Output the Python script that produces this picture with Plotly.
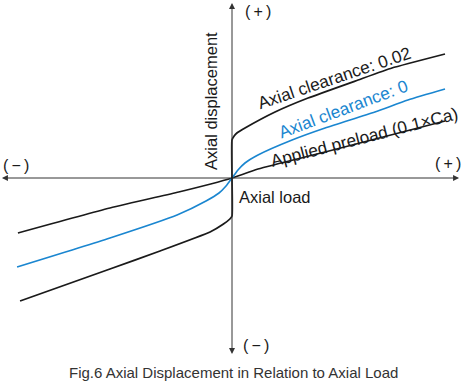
import plotly.graph_objects as go

# ---- data (normalised axial load, relative axial displacement) ----
load_clear002 = [-0.995, -0.573, -0.338, -0.103, -0.040, -0.010, 0.0, 0.0, 0.0, 0.010, 0.023, 0.061, 0.202, 0.357, 0.592, 0.751, 1.0]
disp_clear002 = [-1.23, -0.91, -0.73, -0.54, -0.46, -0.41, -0.38, 0.0, 0.38, 0.42, 0.45, 0.50, 0.66, 0.80, 0.98, 1.10, 1.24]

load_clear0 = [-1.009, -0.573, -0.258, -0.122, -0.061, -0.028, -0.014, 0.0, 0.014, 0.028, 0.061, 0.122, 0.282, 0.437, 0.671, 0.826, 1.0]
disp_clear0 = [-0.89, -0.60, -0.37, -0.23, -0.15, -0.08, -0.04, 0.0, 0.04, 0.08, 0.15, 0.23, 0.38, 0.50, 0.66, 0.78, 0.89]

load_preload = [-1.005, -0.573, -0.250, -0.100, 0.0, 0.122, 0.437, 1.0]
disp_preload = [-0.55, -0.30, -0.14, -0.06, 0.0, 0.09, 0.26, 0.57]

labels = ["Axial clearance: 0.02", "Axial clearance: 0", "Applied preload (0.1×Ca)"]
x_title = "Axial load"
y_title = "Axial displacement"
caption = "Fig.6 Axial Displacement in Relation to Axial Load"
plus_label = "(\u2009+\u2009)"
minus_label = "(\u2009\u2212\u2009)"

X_RANGE = [-1.0892, 1.0845]
Y_RANGE = [-2.14, 1.78]
X_TIP_L, X_TIP_R = -1.080, 1.066
Y_TIP_T, Y_TIP_B = 1.75, -1.76

BLACK = "#1a1a1a"
BLUE = "#1a86d0"
FONT = "Liberation Sans, Arial, sans-serif"

fig = go.Figure()
fig.add_trace(go.Scatter(x=load_preload, y=disp_preload, mode="lines", hoverinfo="skip",
                         line=dict(color=BLACK, width=1.6, shape="spline", smoothing=0.6)))
fig.add_trace(go.Scatter(x=load_clear0, y=disp_clear0, mode="lines", hoverinfo="skip",
                         line=dict(color=BLUE, width=1.6, shape="spline", smoothing=0.6)))
fig.add_trace(go.Scatter(x=load_clear002, y=disp_clear002, mode="lines", hoverinfo="skip",
                         line=dict(color=BLACK, width=1.8, shape="spline", smoothing=0.4)))

ann = []
# axis arrows
for (tx, ty) in [(X_TIP_L, 0), (X_TIP_R, 0), (0, Y_TIP_T), (0, Y_TIP_B)]:
    ann.append(dict(x=tx, y=ty, ax=0, ay=0, xref="x", yref="y", axref="x", ayref="y",
                    text="", showarrow=True, arrowhead=2, arrowsize=1.2, arrowwidth=1,
                    arrowcolor="#333333"))

def txt(x, y, s, size=16, color=BLACK, angle=0, xref="x", yref="y"):
    ann.append(dict(x=x, y=y, xref=xref, yref=yref, text=s, showarrow=False,
                    textangle=angle, font=dict(family=FONT, size=size, color=color)))

txt(0.124, 1.67, plus_label, 16)
txt(-1.014, 0.13, minus_label, 16)
txt(1.014, 0.15, plus_label, 16)
txt(0.113, -1.67, minus_label, 16)
txt(-0.099, 0.77, y_title, 16.5, angle=-90)
txt(0.202, -0.19, x_title, 16.5)
txt(0.479, 1.00, labels[0], 17.3, angle=-18.7)
txt(0.521, 0.69, labels[1], 17.3, color=BLUE, angle=-20.6)
txt(0.624, 0.41, labels[2], 17.3, angle=-14.5)
txt(0.505, 0.023, caption, 15, color="#333333", xref="paper", yref="paper")

fig.update_layout(
    width=463, height=392, margin=dict(l=0, r=0, t=0, b=0, autoexpand=False),
    paper_bgcolor="white", plot_bgcolor="white", showlegend=False,
    xaxis=dict(range=X_RANGE, visible=False, fixedrange=True),
    yaxis=dict(range=Y_RANGE, visible=False, fixedrange=True),
    annotations=ann,
)
fig.write_html("out.html", config={"displayModeBar": False, "staticPlot": True},
               post_script="document.body.style.margin='0px';")
